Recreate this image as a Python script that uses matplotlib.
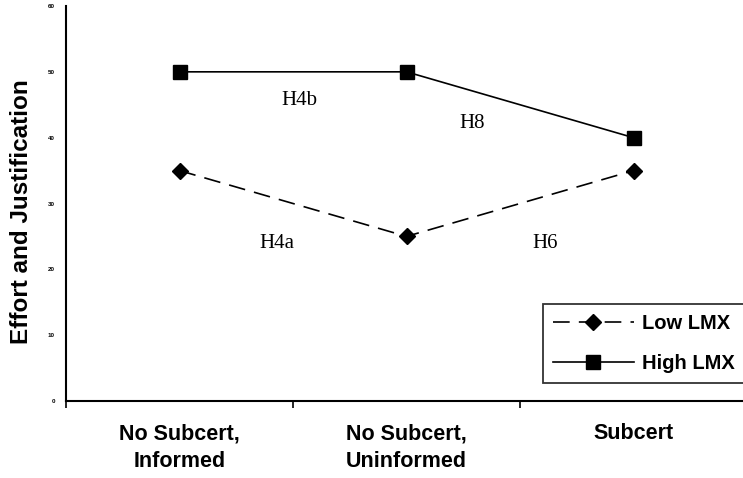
import matplotlib
matplotlib.use("Agg")
import matplotlib.pyplot as plt

# 数据
categories = ["No Subcert,\nInformed", "No Subcert,\nUninformed", "Subcert"]
low_lmx = [35, 25, 35]
high_lmx = [50, 50, 40]
y_ticks = [0, 10, 20, 30, 40, 50, 60]

# 假设标注 (文字, x, y)
hyp_labels = ["H4b", "H8", "H4a", "H6"]
hyp_x = [1.03, 1.79, 0.93, 2.11]
hyp_y = [45.7, 42.1, 23.9, 23.9]

plt.rcParams["font.family"] = ["Liberation Sans", "DejaVu Sans"]

fig = plt.figure(figsize=(7.43, 4.78), dpi=100)
ax = fig.add_axes([66 / 743, 1 - 401 / 478, 677 / 743, 395 / 478])

pos = [i + 0.5 for i in range(len(categories))]

ax.plot(pos, low_lmx, color="black", lw=1.2, dashes=(10, 5.5),
        marker="D", markersize=8.3, label="Low LMX")
ax.plot(pos, high_lmx, color="black", lw=1.2,
        marker="s", markersize=10.5, label="High LMX")

for t, x, y in zip(hyp_labels, hyp_x, hyp_y):
    ax.text(x, y, t, ha="center", va="center", fontsize=15,
            family="Liberation Serif")

ax.set_xlim(0, 677 / 227)
ax.set_ylim(0, 60)

# 坐标轴
for s in ["top", "right"]:
    ax.spines[s].set_visible(False)
for s in ["left", "bottom"]:
    ax.spines[s].set_linewidth(1.5)

ax.set_yticks(y_ticks)
ax.set_yticklabels([str(v) for v in y_ticks], fontsize=4.5, fontweight="bold")
ax.tick_params(axis="y", length=0, pad=8)

ax.set_xticks(pos)
ax.set_xticklabels(categories, fontsize=15.5, fontweight="bold", linespacing=1.45)
ax.set_xticks([0, 1, 2], minor=True)
ax.tick_params(axis="x", which="major", length=0, pad=16)
ax.tick_params(axis="x", which="minor", length=5, width=1.2)

fig.text(22 / 743, 1 - 212 / 478, "Effort and Justification", rotation=90,
         ha="center", va="center", fontsize=17.5, fontweight="bold")

leg = ax.legend(loc="upper left", bbox_to_anchor=(543 / 743, 1 - 304 / 478),
                bbox_transform=fig.transFigure, frameon=True, fancybox=False,
                prop={"weight": "bold", "size": 14.5}, handlelength=4.0,
                handletextpad=0.4, labelspacing=1.05, borderpad=0.5,
                borderaxespad=0)
leg.get_frame().set_edgecolor("black")
leg.get_frame().set_linewidth(1.3)

fig.savefig("out.png", dpi=100)
